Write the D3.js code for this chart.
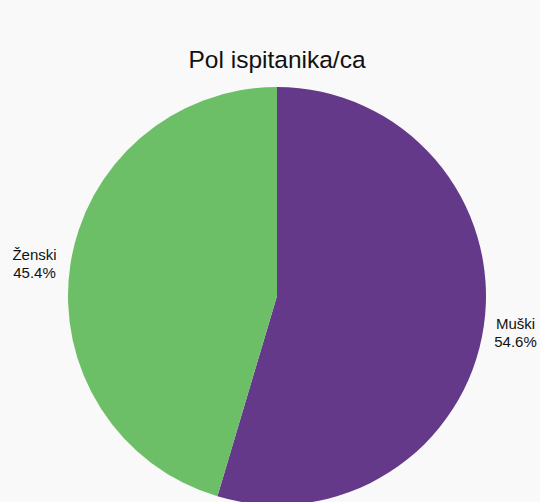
<!DOCTYPE html>
<html><head><meta charset="utf-8">
<script src="https://cdn.jsdelivr.net/npm/d3@7"></script>
<style>html,body{margin:0;padding:0;background:#f9f9f9;}svg{display:block;}</style>
</head><body>
<svg id="c" width="540" height="502"></svg>
<script>
const categories = ["Muški", "Ženski"];
const values = [54.6, 45.4];
const colors = ["#65398a", "#6dbf67"];
const title = "Pol ispitanika/ca";

const W = 540, H = 502, cx = 277, cy = 296, R = 209, LR = 241;
const svg = d3.select("#c");
svg.append("rect").attr("width", W).attr("height", H).attr("fill", "#f9f9f9");
svg.append("text").attr("x", 277).attr("y", 68).attr("text-anchor", "middle")
  .attr("font-family", "Liberation Sans, Arial, sans-serif").attr("font-size", 24.5).attr("fill", "#111")
  .text(title);

const data = categories.map((c, i) => ({c, v: values[i], col: colors[i]}));
const pie = d3.pie().value(d => d.v).sort(null);
const arc = d3.arc().innerRadius(0).outerRadius(R);
const g = svg.append("g").attr("transform", `translate(${cx},${cy})`);
const arcs = pie(data);
g.selectAll("path").data(arcs).join("path").attr("d", arc).attr("fill", d => d.data.col);

const lab = g.selectAll("text").data(arcs).join("text")
  .attr("text-anchor", "middle")
  .attr("font-family", "Liberation Sans, Arial, sans-serif").attr("font-size", 15).attr("fill", "#111")
  .attr("transform", (d, i) => {
    const a = (d.startAngle + d.endAngle) / 2;
    const dx = i === 1 ? -4 : 0;
    return `translate(${LR * Math.sin(a) + dx},${-LR * Math.cos(a) + (i === 1 ? 2 : 1)})`;
  });
lab.append("tspan").attr("x", 0).attr("dy", "-0.2em").text(d => d.data.c);
lab.append("tspan").attr("x", 0).attr("dy", "1.2em").text(d => d.data.v.toFixed(1) + "%");
</script>
</body></html>
